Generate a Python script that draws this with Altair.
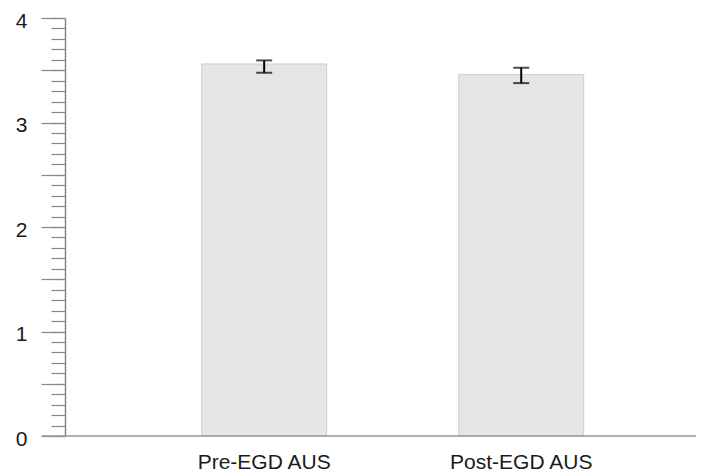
import altair as alt
import pandas as pd

categories = ["Pre-EGD AUS", "Post-EGD AUS"]
means = [3.56, 3.46]
lower = [3.476, 3.377]
upper = [3.594, 3.524]
major_ticks = [i * 0.5 for i in range(9)]
minor_ticks = [round(i * 0.1, 1) for i in range(41)]

df = pd.DataFrame({"group": categories, "mean": means, "lo": lower, "hi": upper})

W, H = 631, 418
FONT = "Liberation Sans"

x = alt.X(
    "group:N",
    sort=categories,
    title=None,
    scale=alt.Scale(paddingInner=0.514, paddingOuter=0.4844, align=0.549),
    axis=alt.Axis(labelAngle=0, labelFontSize=21, labelFont=FONT, labelColor="#1a1a1a",
                  ticks=False, domain=False, labelPadding=15),
)

major_axis = alt.Axis(
    orient="left",
    values=major_ticks,
    title=None,
    labelFontSize=21,
    labelFont=FONT,
    labelColor="#1a1a1a",
    labelExpr="datum.value % 1 === 0 ? format(datum.value, 'd') : ''",
    labelOverlap=False,
    tickSize=24,
    tickColor="#888888",
    tickWidth=1.2,
    domainColor="#888888",
    domainWidth=1.5,
    labelPadding=14,
    labelOffset=3,
    grid=False,
)
minor_axis = alt.Axis(
    orient="left",
    values=minor_ticks,
    title=None,
    labels=False,
    domain=False,
    tickSize=14,
    tickColor="#888888",
    tickWidth=1.2,
    grid=False,
)
yscale = alt.Scale(domain=[0, 4], nice=False)

base = alt.Chart(df)

bars = base.mark_bar(color="#e5e5e5", stroke="#cfcfcf", strokeWidth=1).encode(
    x=x, y=alt.Y("mean:Q", scale=yscale, axis=major_axis)
)
minor = base.mark_rule(opacity=0).encode(
    x=x, y=alt.Y("mean:Q", scale=yscale, axis=minor_axis)
)
rule = base.mark_rule(color="black", strokeWidth=2).encode(
    x=x, y=alt.Y("lo:Q", scale=yscale, axis=None), y2="hi:Q"
)
cap_lo = base.mark_tick(color="black", thickness=2, size=16).encode(
    x=x, y=alt.Y("lo:Q", scale=yscale, axis=None)
)
cap_hi = base.mark_tick(color="black", thickness=2, size=16).encode(
    x=x, y=alt.Y("hi:Q", scale=yscale, axis=None)
)
xline = alt.Chart(pd.DataFrame({"a": [0]})).mark_rule(color="#999999", strokeWidth=1.7).encode(
    x=alt.value(-23.3), x2=alt.value(W), y=alt.value(H)
)

chart = (
    alt.layer(bars, minor, rule, cap_lo, cap_hi, xline)
    .resolve_axis(y="independent")
    .properties(
        width=W,
        height=H,
        autosize=alt.AutoSizeParams(type="none"),
        padding={"left": 57, "top": 10, "right": 0, "bottom": 36},
    )
    .configure_view(stroke=None)
)

chart.save("out.html", embed_options={"renderer": "svg", "actions": False})
